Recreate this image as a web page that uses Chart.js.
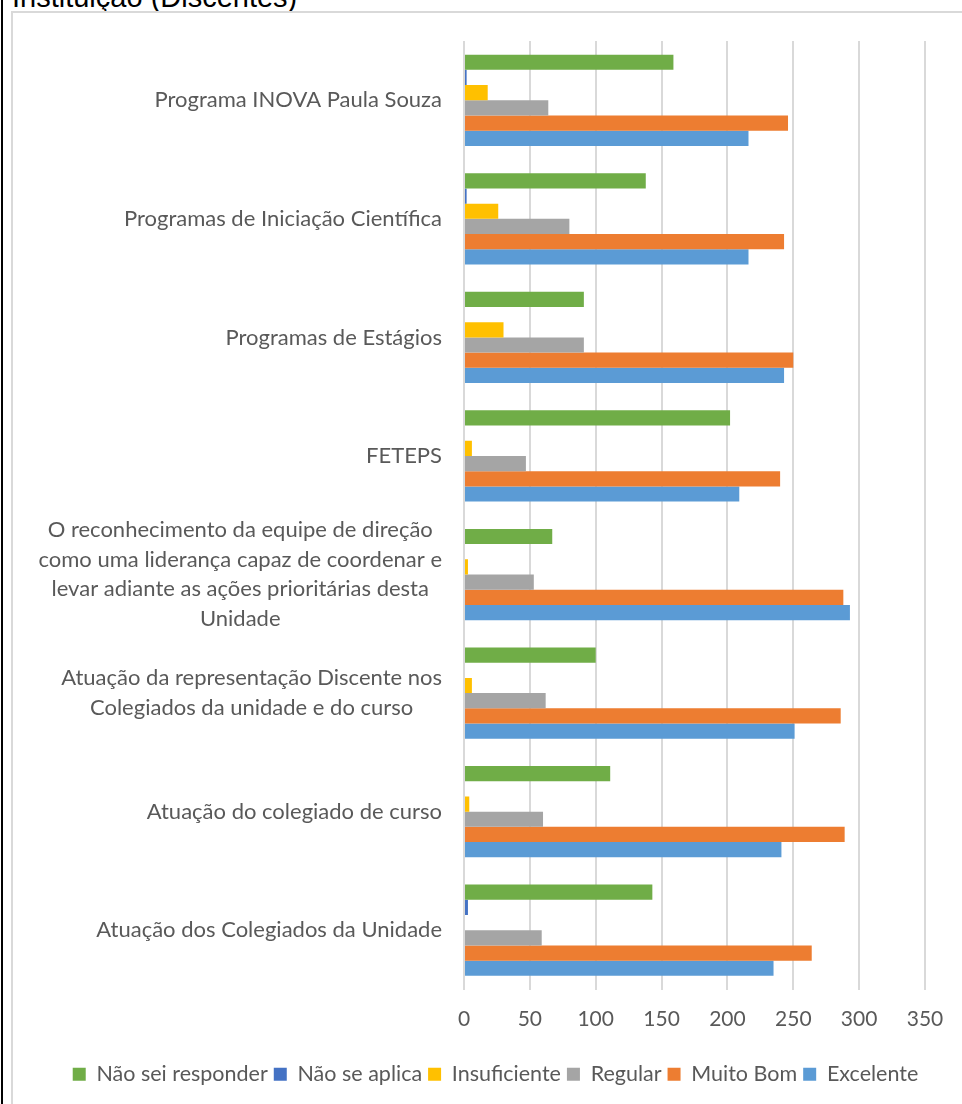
<!DOCTYPE html>
<html>
<head>
<meta charset="utf-8">
<script src="https://cdn.jsdelivr.net/npm/chart.js@4.4.1/dist/chart.umd.min.js"></script>
<style>
  html, body { margin: 0; padding: 0; width: 962px; height: 1104px; overflow: hidden; background: #fff; }
  #edge { position: absolute; left: 1px; top: 0; width: 2px; height: 1104px; background: #000; }
  #title { position: absolute; left: 12px; top: -18px; font: 29px "Liberation Sans", Arial, sans-serif; line-height: 30px; color: #000; white-space: nowrap; }
  #frame { position: absolute; left: 11px; top: 11px; width: 973px; height: 1100px; border: 2px solid #d9d9d9; }
</style>
</head>
<body>
<div id="title">Instituição (Discentes)</div>
<div id="edge"></div>
<div id="frame"><canvas id="chart"></canvas></div>
<script>
// categories, top to bottom as shown
const categories = [
  ['Programa INOVA Paula Souza'],
  ['Programas de Iniciação Científica'],
  ['Programas de Estágios'],
  ['FETEPS'],
  ['O reconhecimento da equipe de direção', 'como uma liderança capaz de coordenar e', 'levar adiante as ações prioritárias desta', 'Unidade'],
  ['Atuação da representação Discente nos', 'Colegiados da unidade e do curso'],
  ['Atuação do colegiado de curso'],
  ['Atuação dos Colegiados da Unidade']
];

const seriesNames = ['Não sei responder', 'Não se aplica', 'Insuficiente', 'Regular', 'Muito Bom', 'Excelente'];
const seriesColors = ['#70AD47', '#4472C4', '#FFC000', '#A5A5A5', '#ED7D31', '#5B9BD5'];

const naoSeiResponder = [159, 138, 91, 202, 67, 100, 111, 143];
const naoSeAplica     = [2, 2, 0, 0, 0, 0, 0, 3];
const insuficiente    = [18, 26, 30, 6, 3, 6, 4, 0];
const regular         = [64, 80, 91, 47, 53, 62, 60, 59];
const muitoBom        = [246, 243, 250, 240, 288, 286, 289, 264];
const excelente       = [216, 216, 243, 209, 293, 251, 241, 235];

const xTicks = [0, 50, 100, 150, 200, 250, 300, 350];

const textColor = '#595959';
const labelFont = 'Lato';

// category labels: each block right-aligned, its lines centred (like Excel)
const categoryLabels = {
  id: 'categoryLabels',
  afterDraw(chart) {
    const { ctx, scales: { y } } = chart;
    ctx.save();
    ctx.font = '22px ' + labelFont;
    ctx.fillStyle = textColor;
    ctx.textAlign = 'center';
    ctx.textBaseline = 'middle';
    categories.forEach((lines, i) => {
      const cy = y.getPixelForValue(i);
      const widest = Math.max(...lines.map(l => ctx.measureText(l).width));
      const cx = y.right - 22 - widest / 2;
      lines.forEach((line, j) => {
        ctx.fillText(line, cx, cy + (j - (lines.length - 1) / 2) * 29.5);
      });
    });
    ctx.restore();
  }
};

const allSeries = [naoSeiResponder, naoSeAplica, insuficiente, regular, muitoBom, excelente];

new Chart(document.getElementById('chart'), {
  type: 'bar',
  data: {
    labels: categories,
    datasets: allSeries.map((values, i) => ({
      label: seriesNames[i],
      data: values,
      backgroundColor: seriesColors[i],
      borderWidth: 0,
      categoryPercentage: 0.77,
      barPercentage: 1
    }))
  },
  options: {
    indexAxis: 'y',
    responsive: true,
    maintainAspectRatio: false,
    animation: false,
    layout: { padding: { left: 53, right: 61, top: 28, bottom: 18 } },
    scales: {
      x: {
        min: xTicks[0],
        max: xTicks[xTicks.length - 1],
        afterBuildTicks: (scale) => { scale.ticks = xTicks.map(v => ({ value: v })); },
        grid: { color: '#d9d9d9', lineWidth: 2, drawTicks: false },
        border: { display: false },
        ticks: { color: textColor, font: { family: labelFont, size: 21 }, padding: 17 },
        afterFit: (scale) => { scale.height = 68; }
      },
      y: {
        grid: { display: false },
        border: { display: false },
        ticks: { display: false },
        afterFit: (scale) => { scale.width = 398; }
      }
    },
    plugins: {
      legend: {
        position: 'bottom',
        labels: {
          color: textColor,
          font: { family: labelFont, size: 21.5 },
          boxWidth: 13,
          boxHeight: 13,
          padding: 6
        }
      },
      tooltip: { enabled: false }
    }
  },
  plugins: [categoryLabels]
});
</script>
</body>
</html>
